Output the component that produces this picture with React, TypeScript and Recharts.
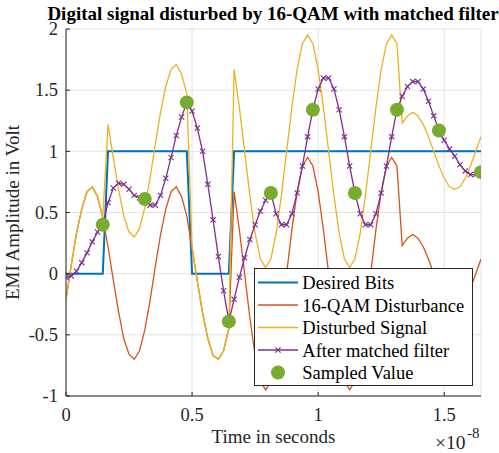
import React from 'react';
import { ComposedChart, Line, XAxis, YAxis, CartesianGrid, Legend } from 'recharts';

if (typeof document !== 'undefined') {
  document.body.style.margin = '0';
  document.body.style.overflow = 'hidden';
}

const FONT = '"Liberation Serif", "Times New Roman", Times, serif';
const AXIS_COLOR = '#262626';

// time axis: samples every 1/48 x 1e-8 s
const SAMPLE_STEP = 1 / 48;

const desiredBits = [
  0, 0, 0, 0, 0, 0, 0, 0,
  1, 1, 1, 1, 1, 1, 1, 1,
  1, 1, 1, 1, 1, 1, 1, 1,
  0, 0, 0, 0, 0, 0, 0, 0,
  1, 1, 1, 1, 1, 1, 1, 1,
  1, 1, 1, 1, 1, 1, 1, 1,
  1, 1, 1, 1, 1, 1, 1, 1,
  1, 1, 1, 1, 1, 1, 1, 1,
  1, 1, 1, 1, 1, 1, 1, 1,
  1, 1, 1, 1, 1, 1, 1, 1,
];

const qamDisturbance = [
  -0.21, 0.07, 0.33, 0.53, 0.67, 0.71, 0.63, 0.46,
  0.22, -0.05, -0.31, -0.53, -0.66, -0.70, -0.63, -0.46,
  -0.22, 0.06, 0.32, 0.53, 0.67, 0.71, 0.63, 0.47,
  0.21, -0.06, -0.32, -0.53, -0.67, -0.70, -0.63, -0.45,
  0.67, 0.36, 0.0, -0.36, -0.67, -0.88, -0.95, -0.88,
  -0.67, -0.36, 0.0, 0.36, 0.67, 0.88, 0.95, 0.88,
  0.67, 0.36, 0.0, -0.36, -0.67, -0.88, -0.95, -0.88,
  -0.67, -0.36, 0.0, 0.36, 0.67, 0.88, 0.95, 0.88,
  0.23, 0.29, 0.32, 0.29, 0.22, 0.12, 0.0, -0.12,
  -0.22, -0.29, -0.31, -0.29, -0.22, -0.12, 0.0, 0.12,
];

const disturbedSignal = [
  -0.21, 0.07, 0.33, 0.53, 0.67, 0.71, 0.63, 0.46,
  1.22, 0.95, 0.69, 0.47, 0.34, 0.30, 0.37, 0.54,
  0.78, 1.06, 1.32, 1.53, 1.67, 1.71, 1.63, 1.47,
  0.21, -0.06, -0.32, -0.53, -0.67, -0.70, -0.63, -0.45,
  1.67, 1.36, 1.00, 0.64, 0.33, 0.12, 0.05, 0.12,
  0.33, 0.64, 1.00, 1.36, 1.67, 1.88, 1.95, 1.88,
  1.67, 1.36, 1.00, 0.64, 0.33, 0.12, 0.05, 0.12,
  0.33, 0.64, 1.00, 1.36, 1.67, 1.88, 1.95, 1.88,
  1.23, 1.29, 1.32, 1.29, 1.22, 1.12, 1.00, 0.88,
  0.78, 0.71, 0.69, 0.71, 0.78, 0.88, 1.00, 1.12,
];

const matchedFilter = [
  -0.03, -0.02, 0.02, 0.09, 0.17, 0.26, 0.34, 0.40,
  0.58, 0.70, 0.74, 0.73, 0.69, 0.64, 0.62, 0.61,
  0.56, 0.56, 0.64, 0.78, 0.95, 1.13, 1.28, 1.40,
  1.33, 1.19, 1.00, 0.73, 0.44, 0.14, -0.14, -0.39,
  -0.21, -0.03, 0.13, 0.28, 0.40, 0.51, 0.60, 0.66,
  0.49, 0.40, 0.40, 0.49, 0.66, 0.88, 1.12, 1.34,
  1.51, 1.60, 1.60, 1.51, 1.34, 1.12, 0.88, 0.66,
  0.49, 0.40, 0.40, 0.49, 0.66, 0.88, 1.12, 1.34,
  1.45, 1.53, 1.57, 1.57, 1.51, 1.41, 1.29, 1.17,
  1.09, 1.02, 0.96, 0.89, 0.84, 0.81, 0.81, 0.83,
];

const sampleIndices = [7, 15, 23, 31, 39, 47, 55, 63, 71, 79];
const sampledValues = [0.40, 0.61, 1.40, -0.39, 0.66, 1.34, 0.66, 1.34, 1.17, 0.83];

const xTicks = [0, 0.5, 1, 1.5];
const yTicks = [-1, -0.5, 0, 0.5, 1, 1.5, 2];

const COLORS = {
  bits: '#0072BD',
  dist: '#D95319',
  sig: '#EDB120',
  mf: '#7E2F8E',
  samp: '#77AC30',
};

const data = desiredBits.map((b, i) => {
  const k = sampleIndices.indexOf(i);
  return {
    t: i * SAMPLE_STEP,
    bits: b,
    dist: qamDisturbance[i],
    sig: disturbedSignal[i],
    mf: matchedFilter[i],
    samp: k >= 0 ? sampledValues[k] : null,
  };
});

const CrossDot = (props: any) => {
  const { cx, cy, index } = props;
  if (cx == null || cy == null) return <g key={`x-${index}`} />;
  const s = 2.6;
  return (
    <path
      key={`x-${index}`}
      d={`M${cx - s},${cy - s}L${cx + s},${cy + s}M${cx - s},${cy + s}L${cx + s},${cy - s}`}
      stroke={COLORS.mf}
      strokeWidth={1.1}
      fill="none"
    />
  );
};

const SampleDot = (props: any) => {
  const { cx, cy, index, value } = props;
  if (value == null || cx == null || cy == null) return <g key={`s-${index}`} />;
  return <circle key={`s-${index}`} cx={cx} cy={cy} r={7} fill={COLORS.samp} stroke="none" />;
};

const XTick = (props: any) => {
  const { x, y, payload } = props;
  return (
    <text x={x} y={y + 13} textAnchor="middle" fontFamily={FONT} style={{ fontFamily: FONT }} fontSize={18.5} fill={AXIS_COLOR}>
      {String(payload.value)}
    </text>
  );
};

const YTick = (props: any) => {
  const { x, y, payload } = props;
  return (
    <text x={x} y={y + 6.3} textAnchor="end" fontFamily={FONT} style={{ fontFamily: FONT }} fontSize={18.5} fill={AXIS_COLOR}>
      {String(payload.value)}
    </text>
  );
};

const legendItems = [
  { label: 'Desired Bits', kind: 'line', color: COLORS.bits, width: 2 },
  { label: '16-QAM Disturbance', kind: 'line', color: COLORS.dist, width: 1.3 },
  { label: 'Disturbed Signal', kind: 'line', color: COLORS.sig, width: 1.3 },
  { label: 'After matched filter', kind: 'marker', color: COLORS.mf, width: 1.3 },
  { label: 'Sampled Value', kind: 'dot', color: COLORS.samp, width: 0 },
];

const LegendBox = () => (
  <svg width={219} height={118} style={{ display: 'block' }}>
    <rect x={0.5} y={0.5} width={218} height={117} fill="#ffffff" stroke={AXIS_COLOR} strokeWidth={1} />
    {legendItems.map((it, k) => {
      const y = 14.5 + 22.5 * k;
      return (
        <g key={it.label}>
          {it.kind !== 'dot' && (
            <line x1={4} x2={44} y1={y} y2={y} stroke={it.color} strokeWidth={it.width} />
          )}
          {it.kind === 'marker' && (
            <path d={`M${24 - 2.6},${y - 2.6}L${24 + 2.6},${y + 2.6}M${24 - 2.6},${y + 2.6}L${24 + 2.6},${y - 2.6}`} stroke={it.color} strokeWidth={1.1} />
          )}
          {it.kind === 'dot' && <circle cx={24} cy={y} r={7} fill={it.color} />}
          <text x={48.3} y={y + 6.6} fontFamily={FONT} style={{ fontFamily: FONT }} fontSize={18.5} fill="#000">
            {it.label}
          </text>
        </g>
      );
    })}
  </svg>
);

export default function App() {
  return (
    <div style={{ position: 'relative', width: 499, height: 453, background: '#fff' }}>
      <ComposedChart
        width={499}
        height={453}
        data={data}
        margin={{ top: 29, right: 18, bottom: 17, left: 16 }}
      >
        <CartesianGrid stroke="#e2e2e2" strokeWidth={1} />
        <XAxis
          dataKey="t"
          type="number"
          domain={[0, 'dataMax']}
          ticks={xTicks}
          height={40}
          stroke={AXIS_COLOR}
          tickSize={-4}
          tickMargin={16}
          tick={<XTick />}
          allowDataOverflow
        />
        <XAxis
          xAxisId="top"
          orientation="top"
          dataKey="t"
          type="number"
          domain={[0, 'dataMax']}
          ticks={xTicks}
          height={0}
          stroke={AXIS_COLOR}
          tickSize={-4}
          tick={false}
          allowDataOverflow
        />
        <YAxis
          type="number"
          domain={[-1, 2]}
          ticks={yTicks}
          width={50}
          stroke={AXIS_COLOR}
          tickSize={-4}
          tickMargin={12}
          tick={<YTick />}
          allowDataOverflow
        />
        <YAxis
          yAxisId="right"
          orientation="right"
          type="number"
          domain={[-1, 2]}
          ticks={yTicks}
          width={0}
          stroke={AXIS_COLOR}
          tickSize={-4}
          tick={false}
          allowDataOverflow
        />
        <Line dataKey="bits" stroke={COLORS.bits} strokeWidth={2} dot={false} isAnimationActive={false} />
        <Line dataKey="dist" stroke={COLORS.dist} strokeWidth={1.3} dot={false} isAnimationActive={false} />
        <Line dataKey="sig" stroke={COLORS.sig} strokeWidth={1.3} dot={false} isAnimationActive={false} />
        <Line dataKey="mf" stroke={COLORS.mf} strokeWidth={1.3} dot={CrossDot} isAnimationActive={false} />
        <Line dataKey="samp" stroke="none" dot={SampleDot} isAnimationActive={false} connectNulls={false} />
        <Legend
          layout="horizontal"
          verticalAlign="middle"
          align="center"
          wrapperStyle={{ left: 254, top: 268, width: 219, height: 118, lineHeight: 0 }}
          content={() => <LegendBox />}
        />
      </ComposedChart>
      <svg
        width={499}
        height={453}
        style={{ position: 'absolute', left: 0, top: 0, pointerEvents: 'none', fontFamily: FONT }}
      >
        <text x={273} y={19.5} textAnchor="middle" fontFamily={FONT} fontWeight="bold" fontSize={19} fill="#000">
          Digital signal disturbed by 16-QAM with matched filter
        </text>
        <text x={273.5} y={443} textAnchor="middle" fontFamily={FONT} fontSize={19} fill={AXIS_COLOR}>
          Time in seconds
        </text>
        <text
          transform="translate(18.5,212.5) rotate(-90)"
          textAnchor="middle"
          fontFamily={FONT}
          fontSize={19}
          fill={AXIS_COLOR}
        >
          EMI Amplitude in Volt
        </text>
        <text x={435} y={449} fontFamily={FONT} fontSize={19.5} fill={AXIS_COLOR}>
          ×10
        </text>
        <text x={467} y={438} fontFamily={FONT} fontSize={15} fill={AXIS_COLOR}>
          -8
        </text>
      </svg>
    </div>
  );
}
